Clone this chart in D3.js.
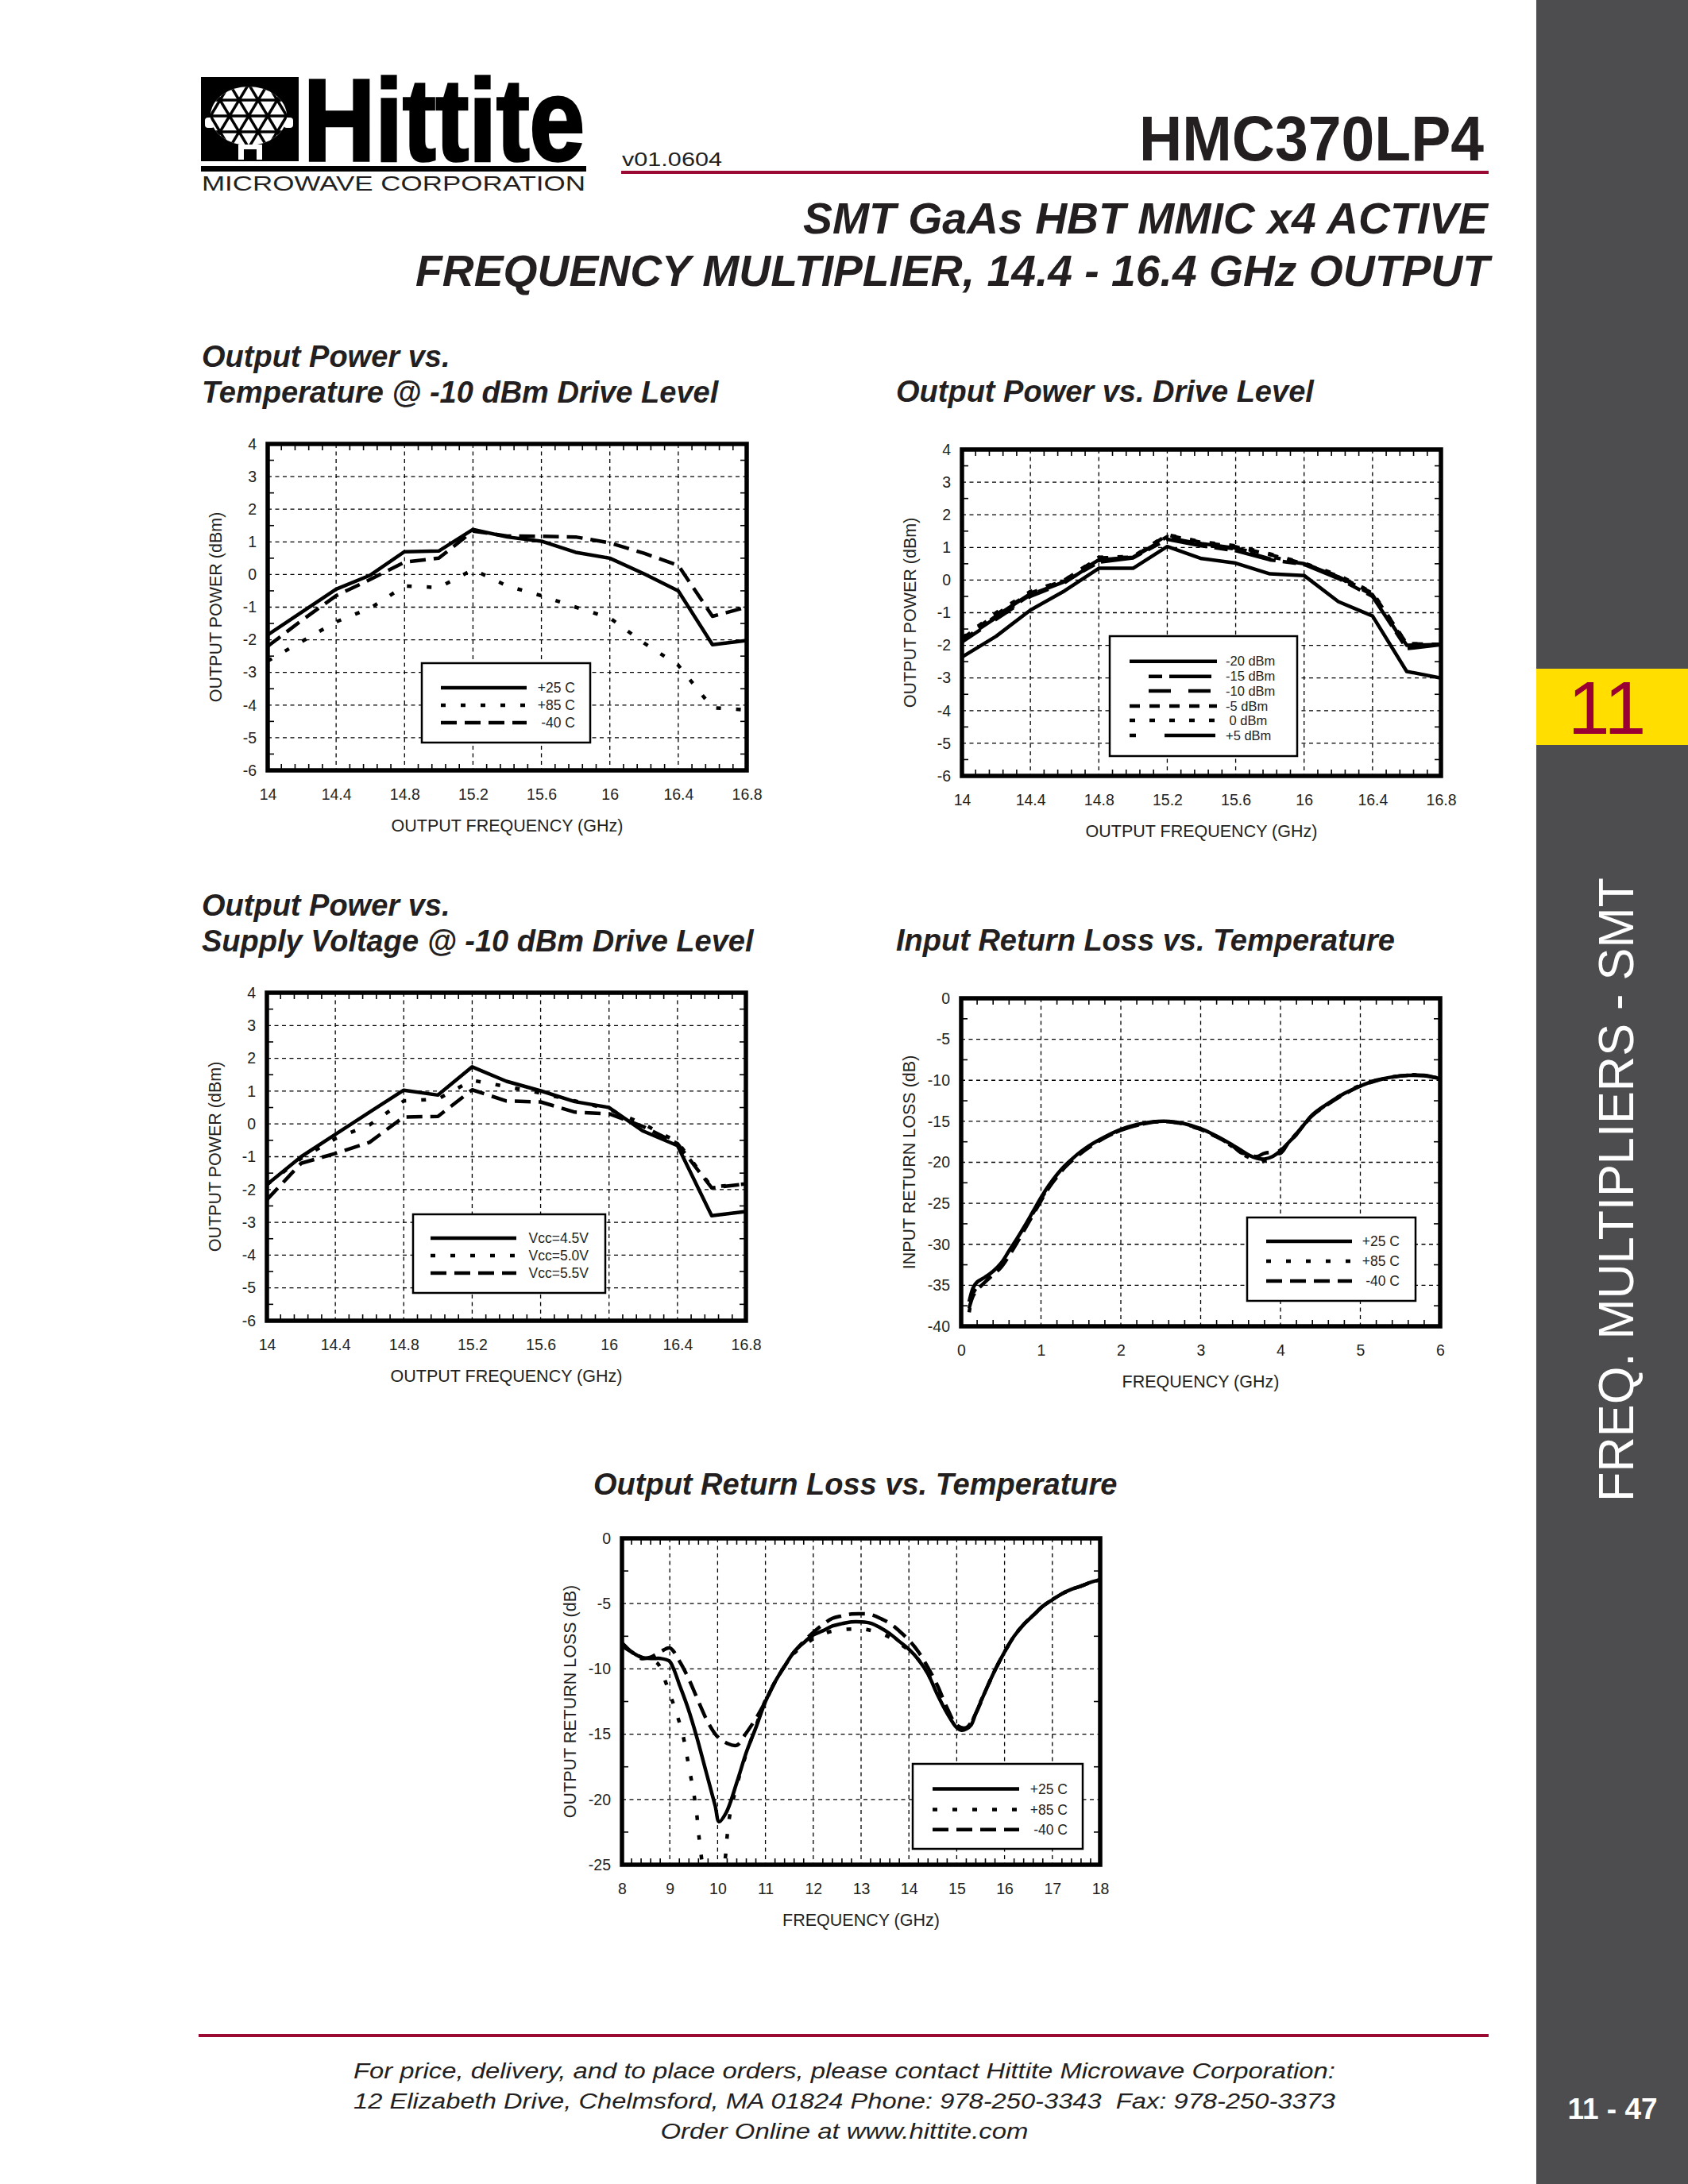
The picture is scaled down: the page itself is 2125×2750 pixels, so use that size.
<!DOCTYPE html>
<html><head><meta charset="utf-8">
<script src="https://cdn.jsdelivr.net/npm/d3@7"></script>
<style>
html,body{margin:0;padding:0;background:#fff;}
svg{display:block;}
</style></head>
<body>
<svg id="page" width="2125" height="2750" xmlns="http://www.w3.org/2000/svg"></svg>
<script>
// ---------------- DATA ----------------
// Chart 1: Output Power vs Temperature @ -10 dBm drive
const c1Freq = [14.0,14.2,14.4,14.6,14.8,15.0,15.2,15.4,15.6,15.8,16.0,16.2,16.4,16.6,16.8];
const c1P25  = [-1.85,-1.15,-0.45,-0.02,0.70,0.72,1.38,1.15,1.02,0.68,0.50,0.02,-0.50,-2.15,-2.02];
const c1P85  = [-2.65,-2.05,-1.45,-1.03,-0.35,-0.40,0.15,-0.35,-0.65,-1.00,-1.33,-2.10,-2.78,-4.08,-4.15];
const c1M40  = [-2.20,-1.40,-0.65,-0.15,0.38,0.50,1.33,1.18,1.17,1.15,0.97,0.65,0.28,-1.28,-1.00];
const c1Legend = ["+25 C", "+85 C", "-40 C"];

// Chart 2: Output Power vs Drive Level
const c2Freq = [14.0,14.2,14.4,14.6,14.8,15.0,15.2,15.4,15.6,15.8,16.0,16.2,16.4,16.6,16.8];
const c2M20 = [-2.36,-1.72,-0.92,-0.33,0.36,0.36,1.03,0.66,0.52,0.19,0.14,-0.66,-1.10,-2.80,-3.00];
const c2M15 = [-1.85,-1.15,-0.45,-0.05,0.55,0.68,1.25,1.05,0.90,0.62,0.48,0.05,-0.50,-2.10,-1.98];
const c2M10 = [-1.90,-1.20,-0.50,-0.08,0.60,0.70,1.30,1.10,0.95,0.65,0.50,0.08,-0.45,-2.05,-1.97];
const c2M5  = [-1.80,-1.05,-0.40,0.00,0.68,0.70,1.38,1.15,1.02,0.78,0.50,0.12,-0.40,-1.95,-1.97];
const c2P0  = [-1.78,-1.00,-0.35,0.00,0.70,0.72,1.39,1.17,1.05,0.80,0.52,0.15,-0.38,-1.95,-1.97];
const c2P5  = [-1.85,-1.10,-0.42,-0.03,0.62,0.70,1.33,1.12,0.98,0.72,0.50,0.10,-0.42,-2.00,-1.97];
const c2Legend = ["-20 dBm", "-15 dBm", "-10 dBm", "-5 dBm", " 0 dBm", "+5 dBm"];

// Chart 3: Output Power vs Supply Voltage
const c3Freq = [14.0,14.2,14.4,14.6,14.8,15.0,15.2,15.4,15.6,15.8,16.0,16.2,16.4,16.6,16.8];
const c3V45 = [-1.85,-1.00,-0.32,0.36,1.03,0.88,1.74,1.30,1.01,0.68,0.50,-0.22,-0.66,-2.80,-2.67];
const c3V50 = [-1.85,-1.05,-0.45,-0.03,0.70,0.76,1.33,1.14,0.94,0.70,0.45,0.00,-0.55,-1.92,-1.83];
const c3V55 = [-2.31,-1.20,-0.90,-0.56,0.21,0.23,1.04,0.70,0.67,0.36,0.31,-0.08,-0.60,-1.95,-1.83];
const c3Legend = ["Vcc=4.5V", "Vcc=5.0V", "Vcc=5.5V"];

// Chart 4: Input Return Loss vs Temperature
const c4Freq = [0.1,0.15,0.2,0.3,0.4,0.5,0.6,0.7,0.8,0.9,1.0,1.1,1.2,1.3,1.4,1.5,1.6,1.8,2.0,2.2,2.4,2.6,2.8,3.0,3.2,3.4,3.5,3.6,3.7,3.8,3.9,4.0,4.1,4.2,4.4,4.6,4.8,5.0,5.2,5.4,5.6,5.8,6.0];
const c4P25 = [-37.0,-35.3,-34.6,-34.0,-33.3,-32.3,-30.8,-29.3,-27.7,-26.0,-24.3,-22.8,-21.5,-20.4,-19.5,-18.7,-18.0,-16.9,-16.0,-15.4,-15.05,-15.0,-15.3,-15.9,-16.8,-17.9,-18.5,-19.1,-19.5,-19.6,-19.3,-18.6,-17.6,-16.6,-14.2,-12.8,-11.6,-10.7,-10.0,-9.6,-9.4,-9.45,-9.8];
const c4P85 = [-38.3,-36.0,-35.2,-34.3,-33.4,-32.4,-30.9,-29.4,-27.9,-26.2,-24.5,-22.9,-21.6,-20.5,-19.6,-18.8,-18.1,-17.0,-16.1,-15.5,-15.1,-15.05,-15.4,-16.0,-16.9,-18.1,-18.9,-19.4,-20.1,-19.8,-19.1,-18.5,-17.6,-16.6,-14.3,-12.8,-11.6,-10.6,-10.0,-9.6,-9.35,-9.4,-9.8];
const c4M40 = [-37.8,-36.3,-35.6,-34.6,-33.7,-32.8,-31.4,-29.8,-28.1,-26.4,-24.7,-23.1,-21.8,-20.6,-19.7,-18.9,-18.2,-17.0,-16.1,-15.5,-15.1,-15.05,-15.35,-16.0,-16.9,-18.0,-18.8,-19.0,-19.3,-18.9,-18.8,-18.9,-17.6,-16.5,-14.3,-12.9,-11.7,-10.7,-10.05,-9.6,-9.4,-9.4,-9.8];
const c4Legend = ["+25 C", "+85 C", "-40 C"];

// Chart 5: Output Return Loss vs Temperature
const c5P25Freq = [8.0,8.2,8.4,8.65,8.8,8.99,9.08,9.19,9.38,9.57,9.76,9.95,10.03,10.18,10.41,10.6,10.8,11.0,11.2,11.4,11.6,11.8,12.0,12.2,12.4,12.6,12.8,13.0,13.2,13.4,13.6,13.8,14.0,14.2,14.4,14.6,14.8,15.0,15.1,15.2,15.3,15.4,15.6,15.8,16.0,16.2,16.4,16.6,16.8,17.0,17.2,17.4,17.6,17.8,18.0];
const c5P25 = [-8.25,-8.7,-9.1,-9.2,-9.2,-9.4,-10.0,-11.1,-13.0,-15.3,-17.9,-20.5,-21.7,-21.0,-18.6,-16.4,-14.5,-12.5,-11.0,-9.8,-8.7,-8.0,-7.4,-7.08,-6.72,-6.53,-6.4,-6.4,-6.5,-6.84,-7.3,-7.9,-8.5,-9.3,-10.4,-12.0,-13.4,-14.5,-14.7,-14.6,-14.3,-13.4,-11.7,-10.1,-8.7,-7.5,-6.6,-5.9,-5.2,-4.7,-4.25,-3.9,-3.66,-3.37,-3.18];
const c5P85Freq = [8.0,8.2,8.4,8.6,8.75,8.85,9.0,9.14,9.27,9.35,9.42,9.5,9.56,9.6,9.65,9.75,9.9,10.05,10.16,10.2,10.26,10.41,10.6,10.8,11.0,11.2,11.4,11.6,11.8,12.0,12.2,12.35,12.6,12.85,13.05,13.25,13.5,13.7,13.9,14.05,14.2,14.4,14.6,14.8,15.0,15.1,15.2,15.3,15.4,15.6,15.8,16.0,16.2,16.4,16.6,16.8,17.0,17.2,17.4,17.6,17.8,18.0];
const c5P85 = [-8.1,-8.6,-9.1,-9.3,-9.6,-10.4,-11.9,-13.4,-15.0,-16.5,-17.9,-19.5,-21.0,-22.5,-24.1,-26.5,-28.0,-27.0,-24.5,-22.8,-21.1,-18.8,-16.5,-14.4,-12.4,-11.0,-9.8,-8.8,-8.2,-7.7,-7.35,-7.15,-7.0,-6.95,-6.95,-7.1,-7.4,-7.8,-8.3,-8.7,-9.3,-10.4,-11.9,-13.3,-14.4,-14.6,-14.5,-14.2,-13.3,-11.7,-10.1,-8.7,-7.5,-6.6,-5.9,-5.2,-4.7,-4.25,-3.9,-3.66,-3.37,-3.18];
const c5M40Freq = [8.0,8.2,8.4,8.6,8.8,9.0,9.2,9.4,9.6,9.8,10.0,10.2,10.4,10.6,10.8,11.0,11.2,11.4,11.6,11.8,12.0,12.2,12.4,12.6,12.8,13.0,13.2,13.4,13.6,13.8,14.0,14.2,14.4,14.6,14.8,15.0,15.2,15.4,15.6,15.8,16.0,16.2,16.4,16.6,16.8,17.0,17.2,17.4,17.6,17.8,18.0];
const c5M40 = [-8.0,-8.7,-9.2,-9.1,-8.7,-8.4,-9.4,-10.8,-12.5,-14.1,-15.2,-15.7,-15.85,-14.9,-13.8,-12.5,-11.0,-9.8,-8.7,-7.9,-7.2,-6.6,-6.13,-5.94,-5.8,-5.78,-5.83,-6.13,-6.5,-7.1,-7.8,-8.7,-9.9,-11.3,-13.0,-14.3,-14.5,-13.4,-11.7,-10.1,-8.7,-7.5,-6.6,-5.9,-5.2,-4.7,-4.25,-3.9,-3.66,-3.37,-3.18];
const c5Legend = ["+25 C", "+85 C", "-40 C"];

// Tick labels
const powerFreqTicks = [14, 14.4, 14.8, 15.2, 15.6, 16, 16.4, 16.8];
const powerTicks = [-6, -5, -4, -3, -2, -1, 0, 1, 2, 3, 4];
const inFreqTicks = [0, 1, 2, 3, 4, 5, 6];
const inLossTicks = [-40, -35, -30, -25, -20, -15, -10, -5, 0];
const outFreqTicks = [8, 9, 10, 11, 12, 13, 14, 15, 16, 17, 18];
const outLossTicks = [-25, -20, -15, -10, -5, 0];

// ---------------- DRAWING ----------------
const svg = d3.select('#page');
const INK = '#231f20';
const FONT = "'Liberation Sans', Arial, Helvetica, sans-serif";
const RED = '#9b0a32';
const defs = svg.append('defs');

svg.append('rect').attr('width', 2125).attr('height', 2750).attr('fill', '#fff');

// Sidebar
svg.append('rect').attr('x', 1934).attr('y', 0).attr('width', 191).attr('height', 2750).attr('fill', '#4d4d4f');
svg.append('rect').attr('x', 1934).attr('y', 842).attr('width', 191).attr('height', 96).attr('fill', '#ffde00');
svg.append('text').attr('x', 2023).attr('y', 924).attr('text-anchor', 'middle')
  .attr('font-family', FONT).attr('font-size', 95).attr('fill', '#990033').text('11');
svg.append('text').attr('transform', 'translate(2056,1891) rotate(-90)')
  .attr('font-family', FONT).attr('font-size', 63).attr('fill', '#fff')
  .attr('textLength', 786).attr('lengthAdjust', 'spacingAndGlyphs')
  .text('FREQ. MULTIPLIERS - SMT');
svg.append('text').attr('x', 2030).attr('y', 2668).attr('text-anchor', 'middle')
  .attr('font-family', FONT).attr('font-size', 37).attr('font-weight', 'bold').attr('fill', '#fff')
  .text('11 - 47');

// Logo
const logo = svg.append('g');
logo.append('rect').attr('x', 253).attr('y', 97).attr('width', 123).attr('height', 106).attr('fill', '#000');
defs.append('clipPath').attr('id', 'globeClip').append('ellipse')
  .attr('cx', 313).attr('cy', 146).attr('rx', 48).attr('ry', 37);
logo.append('ellipse').attr('cx', 313).attr('cy', 146).attr('rx', 48).attr('ry', 37).attr('fill', '#fff');
// side handles
logo.append('rect').attr('x', 258).attr('y', 148).attr('width', 12).attr('height', 13).attr('rx', 4).attr('fill', '#fff');
logo.append('rect').attr('x', 357).attr('y', 148).attr('width', 12).attr('height', 13).attr('rx', 4).attr('fill', '#fff');
const lat = logo.append('g').attr('clip-path', 'url(#globeClip)').attr('stroke', '#000').attr('stroke-width', 3.5);
[126, 146, 166].forEach(yy => lat.append('line').attr('x1', 260).attr('x2', 375).attr('y1', yy).attr('y2', yy));
for (let k = -6; k <= 6; k++) {
  const x0 = 313 + k * 24;
  lat.append('line').attr('x1', x0 - 24).attr('y1', 106).attr('x2', x0 + 24).attr('y2', 186);
  lat.append('line').attr('x1', x0 + 24).attr('y1', 106).attr('x2', x0 - 24).attr('y2', 186);
}
logo.append('rect').attr('x', 300).attr('y', 182).attr('width', 30).attr('height', 19).attr('fill', '#fff');
logo.append('rect').attr('x', 307).attr('y', 188).attr('width', 16).attr('height', 13).attr('fill', '#000');
logo.append('text').attr('transform', 'translate(382,202) scale(1,1.17)')
  .attr('font-family', FONT).attr('font-weight', 'bold').attr('font-size', 125).attr('fill', '#000')
  .attr('stroke', '#000').attr('stroke-width', 3)
  .attr('textLength', 354).attr('lengthAdjust', 'spacingAndGlyphs').text('Hittite');
logo.append('rect').attr('x', 253).attr('y', 209).attr('width', 485).attr('height', 7).attr('fill', '#000');
logo.append('text').attr('x', 254).attr('y', 240)
  .attr('font-family', FONT).attr('font-size', 26).attr('fill', INK)
  .attr('textLength', 483).attr('lengthAdjust', 'spacingAndGlyphs').text('MICROWAVE CORPORATION');

// Header texts
svg.append('text').attr('x', 783).attr('y', 209).attr('font-family', FONT).attr('font-size', 24).attr('fill', INK)
  .attr('textLength', 126).attr('lengthAdjust', 'spacingAndGlyphs').text('v01.0604');
svg.append('text').attr('x', 1434).attr('y', 202).attr('font-family', FONT).attr('font-size', 80)
  .attr('font-weight', 'bold').attr('fill', INK)
  .attr('textLength', 434).attr('lengthAdjust', 'spacingAndGlyphs').text('HMC370LP4');
svg.append('rect').attr('x', 782).attr('y', 215).attr('width', 1092).attr('height', 4).attr('fill', RED);
svg.append('text').attr('x', 1011).attr('y', 294).attr('font-family', FONT).attr('font-size', 56)
  .attr('font-weight', 'bold').attr('font-style', 'italic').attr('fill', INK)
  .attr('textLength', 862).attr('lengthAdjust', 'spacingAndGlyphs').text('SMT GaAs HBT MMIC x4 ACTIVE');
svg.append('text').attr('x', 523).attr('y', 360).attr('font-family', FONT).attr('font-size', 56)
  .attr('font-weight', 'bold').attr('font-style', 'italic').attr('fill', INK)
  .attr('textLength', 1352).attr('lengthAdjust', 'spacingAndGlyphs').text('FREQUENCY MULTIPLIER, 14.4 - 16.4 GHz OUTPUT');

// Footer
svg.append('rect').attr('x', 250).attr('y', 2561).attr('width', 1624).attr('height', 4).attr('fill', RED);
const footer = [
  ['For price, delivery, and to place orders, please contact Hittite Microwave Corporation:', 2617, 1236],
  ['12 Elizabeth Drive, Chelmsford, MA 01824 Phone: 978-250-3343  Fax: 978-250-3373', 2655, 1236],
  ['Order Online at www.hittite.com', 2693, 463]
];
footer.forEach(f => {
  svg.append('text').attr('x', 1063 - f[2] / 2).attr('y', f[1]).attr('font-family', FONT)
    .attr('font-size', 27).attr('font-style', 'italic').attr('fill', INK)
    .attr('textLength', f[2]).attr('lengthAdjust', 'spacingAndGlyphs').attr('xml:space', 'preserve').text(f[0]);
});

// -------- Chart drawing function --------
const DOT = '6,19', DASH = '20,10';
let clipId = 0;
function drawChart(c) {
  const g = svg.append('g').attr('transform', `translate(${c.left},${c.top})`);
  const x = d3.scaleLinear().domain([c.xTicks[0], c.xTicks[c.xTicks.length - 1]]).range([0, c.width]);
  const y = d3.scaleLinear().domain([c.yTicks[0], c.yTicks[c.yTicks.length - 1]]).range([c.height, 0]);

  // titles
  c.title.forEach((t, i) => {
    svg.append('text').attr('x', c.titleX).attr('y', c.titleY[i]).attr('font-family', FONT)
      .attr('font-size', 38).attr('font-weight', 'bold').attr('font-style', 'italic').attr('fill', INK).text(t);
  });

  // grid
  g.append('g').selectAll('line').data(c.xTicks.slice(1, -1)).join('line')
    .attr('x1', d => x(d)).attr('x2', d => x(d)).attr('y1', 0).attr('y2', c.height)
    .attr('stroke', '#000').attr('stroke-width', 1.3).attr('stroke-dasharray', '5,4.5');
  g.append('g').selectAll('line').data(c.yTicks.slice(1, -1)).join('line')
    .attr('y1', d => y(d)).attr('y2', d => y(d)).attr('x1', 0).attr('x2', c.width)
    .attr('stroke', '#000').attr('stroke-width', 1.3).attr('stroke-dasharray', '5,4.5');

  // minor ticks
  const xm = [], ym = [];
  for (let i = 0; i < c.xTicks.length - 1; i++) {
    const a = c.xTicks[i], b = c.xTicks[i + 1];
    for (let k = 1; k < 5; k++) xm.push(a + (b - a) * k / 5);
  }
  for (let i = 0; i < c.yTicks.length - 1; i++) {
    const a = c.yTicks[i], b = c.yTicks[i + 1];
    ym.push((a + b) / 2);
  }
  const tk = g.append('g').attr('stroke', '#000').attr('stroke-width', 1.6);
  xm.forEach(v => {
    tk.append('line').attr('x1', x(v)).attr('x2', x(v)).attr('y1', c.height).attr('y2', c.height - 8);
    tk.append('line').attr('x1', x(v)).attr('x2', x(v)).attr('y1', 0).attr('y2', 8);
  });
  ym.forEach(v => {
    tk.append('line').attr('y1', y(v)).attr('y2', y(v)).attr('x1', 0).attr('x2', 8);
    tk.append('line').attr('y1', y(v)).attr('y2', y(v)).attr('x1', c.width).attr('x2', c.width - 8);
  });

  // series
  const id = 'clip' + (clipId++);
  defs.append('clipPath').attr('id', id).append('rect').attr('x', 0).attr('y', 0).attr('width', c.width).attr('height', c.height);
  const line = d3.line().x(d => x(d[0])).y(d => y(d[1])).curve(c.curve || d3.curveLinear);
  const sg = g.append('g').attr('clip-path', `url(#${id})`);
  c.series.slice().reverse().forEach(s => {
    const pts = s.x.map((v, i) => [v, s.y[i]]);
    sg.append('path').attr('d', line(pts)).attr('fill', 'none').attr('stroke', '#000')
      .attr('stroke-width', 4.5).attr('stroke-linejoin', 'round')
      .attr('stroke-dasharray', s.dash || null);
  });

  // border
  g.append('rect').attr('x', 0).attr('y', 0).attr('width', c.width).attr('height', c.height)
    .attr('fill', 'none').attr('stroke', '#000').attr('stroke-width', 5.5);

  // axes
  const fmt = d => String(d);
  const ax = g.append('g').attr('transform', `translate(0,${c.height})`)
    .call(d3.axisBottom(x).tickValues(c.xTicks).tickFormat(fmt).tickSize(0).tickPadding(23));
  ax.select('.domain').remove();
  ax.selectAll('text').attr('font-family', FONT).attr('font-size', 19.5).attr('fill', INK);
  const ay = g.append('g')
    .call(d3.axisLeft(y).tickValues(c.yTicks).tickFormat(fmt).tickSize(0).tickPadding(14));
  ay.select('.domain').remove();
  ay.selectAll('text').attr('font-family', FONT).attr('font-size', 19.5).attr('fill', INK);

  g.append('text').attr('x', c.width / 2).attr('y', c.height + 77).attr('text-anchor', 'middle')
    .attr('font-family', FONT).attr('font-size', 21.5).attr('fill', INK).text(c.xTitle);
  g.append('text').attr('transform', `translate(-58,${c.height / 2}) rotate(-90)`).attr('text-anchor', 'middle')
    .attr('font-family', FONT).attr('font-size', 21.5).attr('fill', INK).text(c.yTitle);

  // legend
  const L = c.legend;
  const lg = g.append('g');
  lg.append('rect').attr('x', L.box[0]).attr('y', L.box[1]).attr('width', L.box[2]).attr('height', L.box[3])
    .attr('fill', '#fff').attr('stroke', '#000').attr('stroke-width', 2.5);
  c.series.forEach((s, i) => {
    const yy = L.rows[i];
    lg.append('line').attr('x1', L.lineX[0] + (s.legendOffset || 0)).attr('x2', L.lineX[1]).attr('y1', yy).attr('y2', yy)
      .attr('stroke', '#000').attr('stroke-width', 4.5).attr('stroke-dasharray', s.dash || null);
    lg.append('text').attr('x', L.textX).attr('y', yy).attr('dy', '0.35em')
      .attr('text-anchor', L.anchor).attr('font-family', FONT).attr('font-size', L.fontSize || 17.5)
      .attr('fill', INK).attr('xml:space', 'preserve').text(s.name);
  });
}

// Chart 1
drawChart({
  left: 337, top: 559, width: 603, height: 411,
  xTicks: powerFreqTicks, yTicks: powerTicks,
  title: ['Output Power vs.', 'Temperature @ -10 dBm Drive Level'], titleX: 254, titleY: [462, 507],
  xTitle: 'OUTPUT FREQUENCY (GHz)', yTitle: 'OUTPUT POWER (dBm)',
  series: [
    { name: c1Legend[0], x: c1Freq, y: c1P25 },
    { name: c1Legend[1], x: c1Freq, y: c1P85, dash: DOT },
    { name: c1Legend[2], x: c1Freq, y: c1M40, dash: DASH }
  ],
  legend: { box: [194, 276, 212, 100], lineX: [218, 326], rows: [307, 329, 351], textX: 387, anchor: 'end' }
});

// Chart 2
drawChart({
  left: 1211, top: 566, width: 603, height: 411,
  xTicks: powerFreqTicks, yTicks: powerTicks,
  title: ['Output Power vs. Drive Level'], titleX: 1128, titleY: [506],
  xTitle: 'OUTPUT FREQUENCY (GHz)', yTitle: 'OUTPUT POWER (dBm)',
  series: [
    { name: c2Legend[0], x: c2Freq, y: c2M20 },
    { name: c2Legend[1], x: c2Freq, y: c2M15, dash: '17,9,53,9', legendOffset: 24 },
    { name: c2Legend[2], x: c2Freq, y: c2M10, dash: '28,22', legendOffset: 24 },
    { name: c2Legend[3], x: c2Freq, y: c2M5, dash: '13,12' },
    { name: c2Legend[4], x: c2Freq, y: c2P0, dash: '7,18' },
    { name: c2Legend[5], x: c2Freq, y: c2P5, dash: '8,36,64,36' }
  ],
  legend: { box: [186, 235, 236, 151], lineX: [211, 321], rows: [266.7, 285.7, 304, 323, 341, 360], textX: 332, anchor: 'start', fontSize: 16.5 }
});

// Chart 3
drawChart({
  left: 336, top: 1250, width: 603, height: 413,
  xTicks: powerFreqTicks, yTicks: powerTicks,
  title: ['Output Power vs.', 'Supply Voltage @ -10 dBm Drive Level'], titleX: 254, titleY: [1153, 1198],
  xTitle: 'OUTPUT FREQUENCY (GHz)', yTitle: 'OUTPUT POWER (dBm)',
  series: [
    { name: c3Legend[0], x: c3Freq, y: c3V45 },
    { name: c3Legend[1], x: c3Freq, y: c3V50, dash: DOT },
    { name: c3Legend[2], x: c3Freq, y: c3V55, dash: DASH }
  ],
  legend: { box: [184, 279, 242, 99], lineX: [206, 314], rows: [309, 331, 353], textX: 405, anchor: 'end' }
});

// Chart 4
drawChart({
  left: 1210, top: 1257, width: 603, height: 413,
  xTicks: inFreqTicks, yTicks: inLossTicks, curve: d3.curveCatmullRom.alpha(0.5),
  title: ['Input Return Loss vs. Temperature'], titleX: 1128, titleY: [1197],
  xTitle: 'FREQUENCY (GHz)', yTitle: 'INPUT RETURN LOSS (dB)',
  series: [
    { name: c4Legend[0], x: c4Freq, y: c4P25 },
    { name: c4Legend[1], x: c4Freq, y: c4P85, dash: DOT },
    { name: c4Legend[2], x: c4Freq, y: c4M40, dash: DASH }
  ],
  legend: { box: [360, 276, 212, 105], lineX: [384, 492], rows: [306, 331, 356], textX: 552, anchor: 'end' }
});

// Chart 5
drawChart({
  left: 783, top: 1937, width: 602, height: 411,
  xTicks: outFreqTicks, yTicks: outLossTicks, curve: d3.curveCatmullRom.alpha(0.5),
  title: ['Output Return Loss vs. Temperature'], titleX: 747, titleY: [1882],
  xTitle: 'FREQUENCY (GHz)', yTitle: 'OUTPUT RETURN LOSS (dB)',
  series: [
    { name: c5Legend[0], x: c5P25Freq, y: c5P25 },
    { name: c5Legend[1], x: c5P85Freq, y: c5P85, dash: DOT },
    { name: c5Legend[2], x: c5M40Freq, y: c5M40, dash: DASH }
  ],
  legend: { box: [366, 284, 214, 107], lineX: [391, 500], rows: [315.5, 341.5, 366.7], textX: 561, anchor: 'end' }
});
</script>
</body></html>
